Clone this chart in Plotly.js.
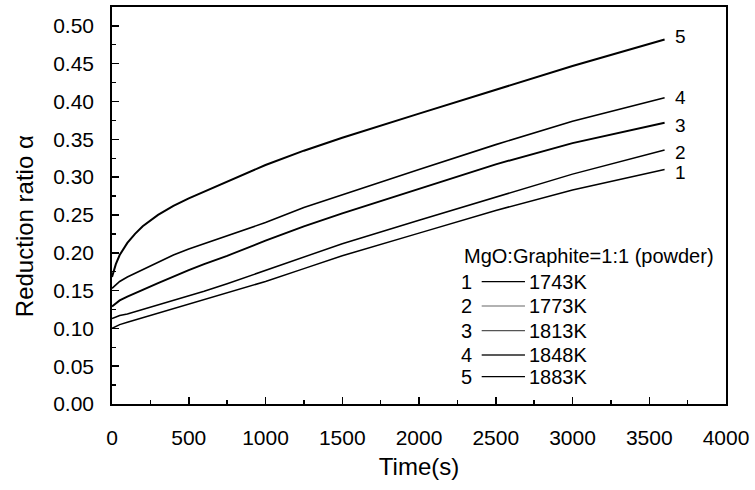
<!DOCTYPE html>
<html>
<head>
<meta charset="utf-8">
<script src="https://cdn.plot.ly/plotly-3.0.1.min.js"></script>
<style>html,body{margin:0;padding:0;background:#fff;}#chart{width:755px;height:490px;}</style>
</head>
<body>
<div id="chart"></div>
<script>
// ---- data ----
const timeS = [0, 25, 50, 100, 150, 200, 300, 400, 500, 600, 750, 1000, 1250, 1500, 2000, 2500, 3000, 3600];
const alpha1743 = [0.100, 0.103, 0.105, 0.108, 0.111, 0.114, 0.121, 0.127, 0.133, 0.139, 0.147, 0.162, 0.179, 0.196, 0.226, 0.256, 0.283, 0.310];
const alpha1773 = [0.113, 0.115, 0.117, 0.119, 0.122, 0.125, 0.130, 0.136, 0.142, 0.149, 0.159, 0.177, 0.195, 0.212, 0.243, 0.273, 0.304, 0.336];
const alpha1813 = [0.129, 0.133, 0.137, 0.142, 0.146, 0.151, 0.160, 0.169, 0.177, 0.185, 0.196, 0.216, 0.235, 0.252, 0.285, 0.317, 0.345, 0.372];
const alpha1848 = [0.153, 0.158, 0.162, 0.168, 0.173, 0.178, 0.188, 0.197, 0.205, 0.212, 0.222, 0.240, 0.260, 0.277, 0.310, 0.343, 0.374, 0.405];
const alpha1883 = [0.168, 0.185, 0.197, 0.213, 0.225, 0.235, 0.250, 0.262, 0.272, 0.281, 0.294, 0.316, 0.335, 0.352, 0.384, 0.416, 0.447, 0.482];
const curveNumbers = ['1', '2', '3', '4', '5'];
const temperatures = ['1743K', '1773K', '1813K', '1848K', '1883K'];
const legendTitle = 'MgO:Graphite=1:1 (powder)';
const xTitle = 'Time(s)';
const yTitle = 'Reduction ratio α';

// ---- styles ----
const FONT = '"Liberation Sans", Arial, Helvetica, sans-serif';
const series = [alpha1743, alpha1773, alpha1813, alpha1848, alpha1883];
const lineWidths = [1.5, 1.5, 1.9, 1.6, 2.0];
const legendColors = ['#000', '#999', '#555', '#222', '#000'];
const labelShift = [-3, -3, -3, 0, 3];

const traces = series.map((ys, i) => ({
  x: timeS, y: ys, type: 'scatter', mode: 'lines',
  line: {color: '#000', width: lineWidths[i]},
  showlegend: false, hoverinfo: 'skip'
}));

const annotations = [];
const shapes = [];
// curve end labels
series.forEach((ys, i) => {
  annotations.push({
    x: timeS[timeS.length - 1], y: ys[ys.length - 1], xref: 'x', yref: 'y',
    text: curveNumbers[i], showarrow: false, xanchor: 'left', yanchor: 'middle',
    xshift: 8, yshift: labelShift[i],
    font: {family: FONT, size: 19, color: '#000'}
  });
});
// y axis title (placed as in the reference, slightly below the axis centre)
annotations.push({
  x: -0.1433, y: 0.448, xref: 'paper', yref: 'paper', text: yTitle,
  showarrow: false, textangle: -90, xanchor: 'center', yanchor: 'middle',
  font: {family: FONT, size: 24, color: '#000'}
});
// legend block (paper coordinates)
annotations.push({
  x: 0.5695, y: 0.3728, xref: 'paper', yref: 'paper', text: legendTitle,
  showarrow: false, xanchor: 'left', yanchor: 'middle',
  font: {family: FONT, size: 20, color: '#000'}
});
const rowY = [0.3081, 0.2469, 0.1847, 0.1234, 0.0688];
rowY.forEach((yy, i) => {
  annotations.push({
    x: 0.5777, y: yy, xref: 'paper', yref: 'paper', text: curveNumbers[i],
    showarrow: false, xanchor: 'center', yanchor: 'middle',
    font: {family: FONT, size: 20, color: '#000'}
  });
  annotations.push({
    x: 0.6754, y: yy, xref: 'paper', yref: 'paper', text: temperatures[i],
    showarrow: false, xanchor: 'left', yanchor: 'middle',
    font: {family: FONT, size: 20, color: '#000'}
  });
  shapes.push({
    type: 'line', xref: 'paper', yref: 'paper', x0: 0.6021, x1: 0.6726, y0: yy, y1: yy,
    line: {color: legendColors[i], width: 1.3}
  });
});

const layout = {
  width: 755, height: 490,
  margin: {l: 112, r: 29, t: 7, b: 86},
  paper_bgcolor: '#fff', plot_bgcolor: '#fff',
  font: {family: FONT, color: '#000'},
  showlegend: false,
  xaxis: {
    range: [0, 4000], dtick: 500, tick0: 0,
    showgrid: false, zeroline: false,
    showline: true, linecolor: '#000', linewidth: 1.8, mirror: true,
    ticks: 'inside', ticklen: 7, tickwidth: 1.5, tickcolor: '#000',
    minor: {dtick: 250, ticks: 'inside', ticklen: 4, tickwidth: 1.3, tickcolor: '#000'},
    tickfont: {family: FONT, size: 21, color: '#000'},
    ticklabelstandoff: 14,
    title: {text: xTitle, font: {family: FONT, size: 24, color: '#000'}, standoff: 10}
  },
  yaxis: {
    range: [0, 0.525], dtick: 0.05, tick0: 0, tickformat: '.2f',
    showgrid: false, zeroline: false,
    showline: true, linecolor: '#000', linewidth: 1.8, mirror: true,
    ticks: 'inside', ticklen: 7, tickwidth: 1.5, tickcolor: '#000',
    minor: {dtick: 0.025, ticks: 'inside', ticklen: 4, tickwidth: 1.3, tickcolor: '#000'},
    tickfont: {family: FONT, size: 21, color: '#000'},
    ticklabelstandoff: 12
  },
  annotations: annotations,
  shapes: shapes
};

Plotly.newPlot('chart', traces, layout, {displayModeBar: false, staticPlot: true});
</script>
</body>
</html>
